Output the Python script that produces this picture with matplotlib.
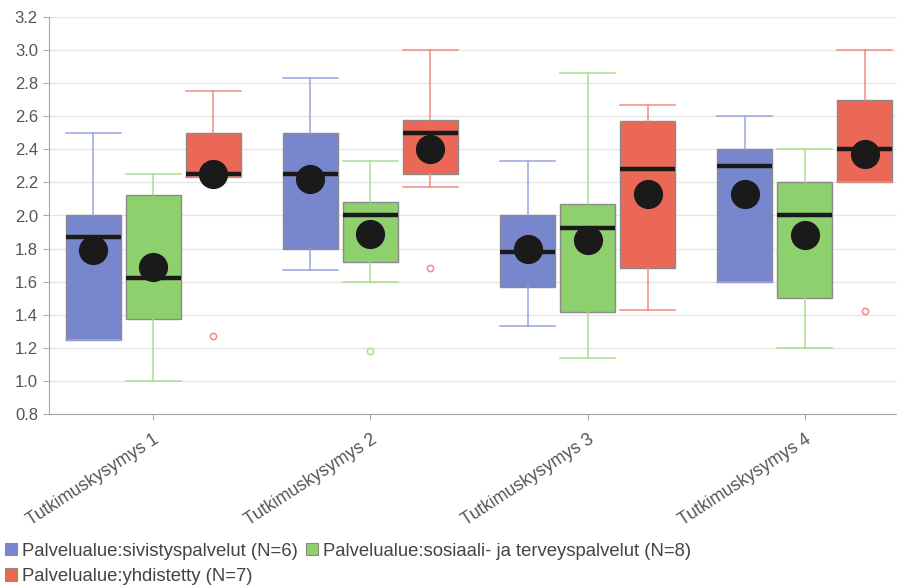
import sys

import matplotlib
matplotlib.use("Agg")
import matplotlib.pyplot as plt
from matplotlib.patches import Patch
from matplotlib.transforms import ScaledTranslation

plt.rcParams["font.family"] = ["Liberation Sans", "DejaVu Sans"]

questions = ["Tutkimuskysymys 1", "Tutkimuskysymys 2", "Tutkimuskysymys 3", "Tutkimuskysymys 4"]
groups = [
    "Palvelualue:sivistyspalvelut (N=6)",
    "Palvelualue:sosiaali- ja terveyspalvelut (N=8)",
    "Palvelualue:yhdistetty (N=7)",
]

# per group, one value per question
whislo = [[1.25, 1.67, 1.33, 1.60],
          [1.00, 1.60, 1.14, 1.20],
          [2.23, 2.17, 1.43, 2.20]]
q1 = [[1.25, 1.80, 1.57, 1.60],
      [1.375, 1.72, 1.415, 1.50],
      [2.23, 2.25, 1.685, 2.20]]
med = [[1.87, 2.25, 1.78, 2.30],
       [1.625, 2.00, 1.925, 2.00],
       [2.25, 2.50, 2.28, 2.40]]
q3 = [[2.00, 2.50, 2.00, 2.40],
      [2.125, 2.08, 2.07, 2.20],
      [2.50, 2.58, 2.57, 2.70]]
whishi = [[2.50, 2.83, 2.33, 2.60],
          [2.25, 2.33, 2.86, 2.40],
          [2.75, 3.00, 2.67, 3.00]]
means = [[1.79, 2.22, 1.80, 2.13],
         [1.69, 1.89, 1.85, 1.88],
         [2.25, 2.40, 2.13, 2.37]]
fliers = [[[], [], [], []],
          [[], [1.18], [], []],
          [[1.27, 2.21], [1.68], [], [1.42]]]

box_colors = ["#7887cd", "#8fd06e", "#ea6855"]
whisker_colors = ["#98a3e2", "#a8de8f", "#f08c80"]

fig = plt.figure(figsize=(8.97, 5.87), dpi=100)
ax = fig.add_axes([49 / 897, 1 - 414 / 587, 848 / 897, 397 / 587])

offset = 0.276
width = 0.253
for g in range(3):
    stats = []
    for q in range(len(questions)):
        stats.append(dict(med=med[g][q], q1=q1[g][q], q3=q3[g][q],
                          whislo=whislo[g][q], whishi=whishi[g][q],
                          mean=means[g][q], fliers=fliers[g][q]))
    positions = [q + (g - 1) * offset for q in range(len(questions))]
    ax.bxp(stats, positions=positions, widths=width, patch_artist=True,
           showmeans=True, manage_ticks=False,
           boxprops=dict(facecolor=box_colors[g], edgecolor="#8a8a8a", linewidth=1.0),
           whiskerprops=dict(color=whisker_colors[g], linewidth=1.1),
           capprops=dict(color=whisker_colors[g], linewidth=1.1),
           capwidths=width,
           medianprops=dict(color="#1a1a1a", linewidth=3.2, solid_capstyle="butt"),
           meanprops=dict(marker="o", markersize=20, markerfacecolor="#1a1a1a",
                          markeredgecolor="#1a1a1a"),
           flierprops=dict(marker="o", markersize=4.5, markerfacecolor="none",
                           markeredgecolor=whisker_colors[g], markeredgewidth=1.1))

ax.set_xlim(-0.479, 3.424)
ax.set_ylim(0.8, 3.2)
ax.set_yticks([0.8 + 0.2 * i for i in range(13)])
ax.set_yticklabels([f"{0.8 + 0.2 * i:.1f}" for i in range(13)])
ax.set_xticks(range(len(questions)))
ax.set_xticklabels(questions, rotation=33, ha="right", va="top", rotation_mode="anchor")
shift = ScaledTranslation(6 / 100, 0, fig.dpi_scale_trans)
for label in ax.get_xticklabels():
    label.set_transform(label.get_transform() + shift)

ax.grid(axis="y", color="#e6e6e6", linewidth=1.0)
ax.set_axisbelow(True)
for side in ["top", "right"]:
    ax.spines[side].set_visible(False)
for side in ["left", "bottom"]:
    ax.spines[side].set_color("#a8a8a8")
ax.tick_params(axis="both", colors="#555555", labelsize=12.8, length=4, width=0.8)
ax.tick_params(axis="y", labelsize=12, pad=4, color="#a8a8a8")
ax.tick_params(axis="x", pad=8, color="#a8a8a8")

handles = [Patch(facecolor=c, edgecolor="#8a8a8a", linewidth=0.8) for c in box_colors]
order = [0, 2, 1]
fig.legend([handles[i] for i in order], [groups[i] for i in order],
           ncol=2, loc="lower left", bbox_to_anchor=(4 / 897, 1 / 587), frameon=False,
           fontsize=13.3, handlelength=0.65, handleheight=0.65, handletextpad=0.3,
           columnspacing=0.4, labelspacing=0.45, borderaxespad=0, borderpad=0.05,
           labelcolor="#444444")

fig.savefig("out.png", dpi=100)
sys.exit(0)
